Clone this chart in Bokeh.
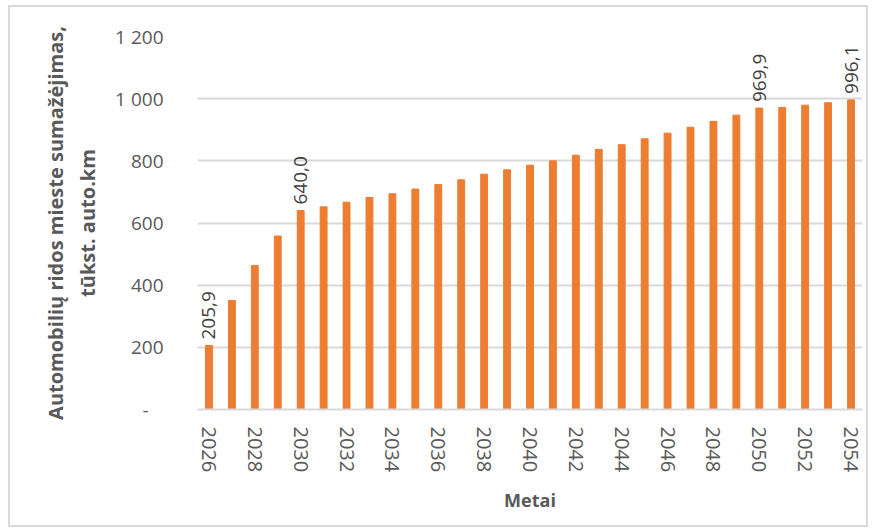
import math
from bokeh.plotting import figure
from bokeh.models import Range1d, FixedTicker, CustomJSTickFormatter, ColumnDataSource
from bokeh.core.properties import value
from bokeh.embed import file_html
from bokeh.resources import INLINE

years = [2026, 2027, 2028, 2029, 2030, 2031, 2032, 2033, 2034, 2035, 2036, 2037, 2038, 2039,
         2040, 2041, 2042, 2043, 2044, 2045, 2046, 2047, 2048, 2049, 2050, 2051, 2052, 2053, 2054]
values = [205.9, 351, 463, 558, 640.0, 652, 667, 682, 694, 709, 724, 739, 757, 771,
          786, 800, 818, 837, 852, 871, 889, 908, 927, 947, 969.9, 972, 979, 987, 996.1]
label_years = [2026, 2030, 2050, 2054]
label_values = [205.9, 640.0, 969.9, 996.1]
label_texts = ["205,9", "640,0", "969,9", "996,1"]
x_ticks = [2026, 2028, 2030, 2032, 2034, 2036, 2038, 2040, 2042, 2044, 2046, 2048, 2050, 2052, 2054]
y_ticks = [0, 200, 400, 600, 800, 1000, 1200]
y_title = "Automobilių ridos mieste sumažėjimas,\ntūkst. auto.km"
x_title = "Metai"

FONT = "Open Sans"
BAR = "#ED7D31"
GRID = "#D9D9D9"
TXT = "#595959"

# figure occupies window area x 10..866, y 7..525 (framed by a light border)
p = figure(width=856, height=518, output_backend="svg", toolbar_location=None,
           x_range=Range1d(2025.5, 2054.5), y_range=Range1d(0, 1200),
           min_border_left=187, min_border_right=4, min_border_top=29, min_border_bottom=116)
p.margin = (7, 10, 7, 10)
p.styles = {"outline": "2px solid #D9D9D9"}
p.background_fill_color = "white"
p.border_fill_color = "white"
p.outline_line_color = None

src = ColumnDataSource(dict(x=years, top=values))
p.vbar(x="x", top="top", width=0.3, source=src, color=BAR)

lsrc = ColumnDataSource(dict(x=label_years, y=label_values, t=label_texts))
p.text(x="x", y="y", text="t", source=lsrc, angle=math.pi / 2, text_align="left",
       text_baseline="middle", y_offset=-6, text_font=value(FONT), text_font_size="19px",
       text_color="#404040")

# axes
p.xaxis.ticker = FixedTicker(ticks=x_ticks)
p.xaxis.major_label_orientation = "vertical"
p.xaxis.major_label_text_font = FONT
p.xaxis.major_label_text_font_size = "20px"
p.xaxis.major_label_text_color = TXT
p.xaxis.major_label_standoff = 11
p.xaxis.major_tick_line_color = None
p.xaxis.minor_tick_line_color = None
p.xaxis.axis_line_color = GRID
p.xaxis.axis_line_width = 2
p.xaxis.axis_label = x_title
p.xaxis.axis_label_text_font = FONT
p.xaxis.axis_label_text_font_style = "bold"
p.xaxis.axis_label_text_font_size = "18px"
p.xaxis.axis_label_text_color = TXT
p.xaxis.axis_label_standoff = 13

p.yaxis.ticker = FixedTicker(ticks=y_ticks)
p.yaxis.formatter = CustomJSTickFormatter(code="""
if (tick == 0) { return '-\u00a0\u00a0\u00a0'; }
var s = tick.toFixed(0);
return s.length > 3 ? s.slice(0, -3) + ' ' + s.slice(-3) : s;
""")
p.yaxis.major_label_text_font = FONT
p.yaxis.major_label_text_font_size = "19px"
p.yaxis.major_label_text_color = TXT
p.yaxis.major_label_standoff = 28
p.yaxis.major_tick_line_color = None
p.yaxis.minor_tick_line_color = None
p.yaxis.axis_line_color = None
p.yaxis.axis_label = y_title
p.yaxis.axis_label_text_font = FONT
p.yaxis.axis_label_text_font_style = "bold"
p.yaxis.axis_label_text_font_size = "20px"
p.yaxis.axis_label_text_color = TXT
p.yaxis.axis_label_standoff = 11

p.xgrid.grid_line_color = None
p.ygrid.grid_line_color = GRID
p.ygrid.grid_line_width = 2

open("out.html", "w").write(file_html(p, INLINE))
